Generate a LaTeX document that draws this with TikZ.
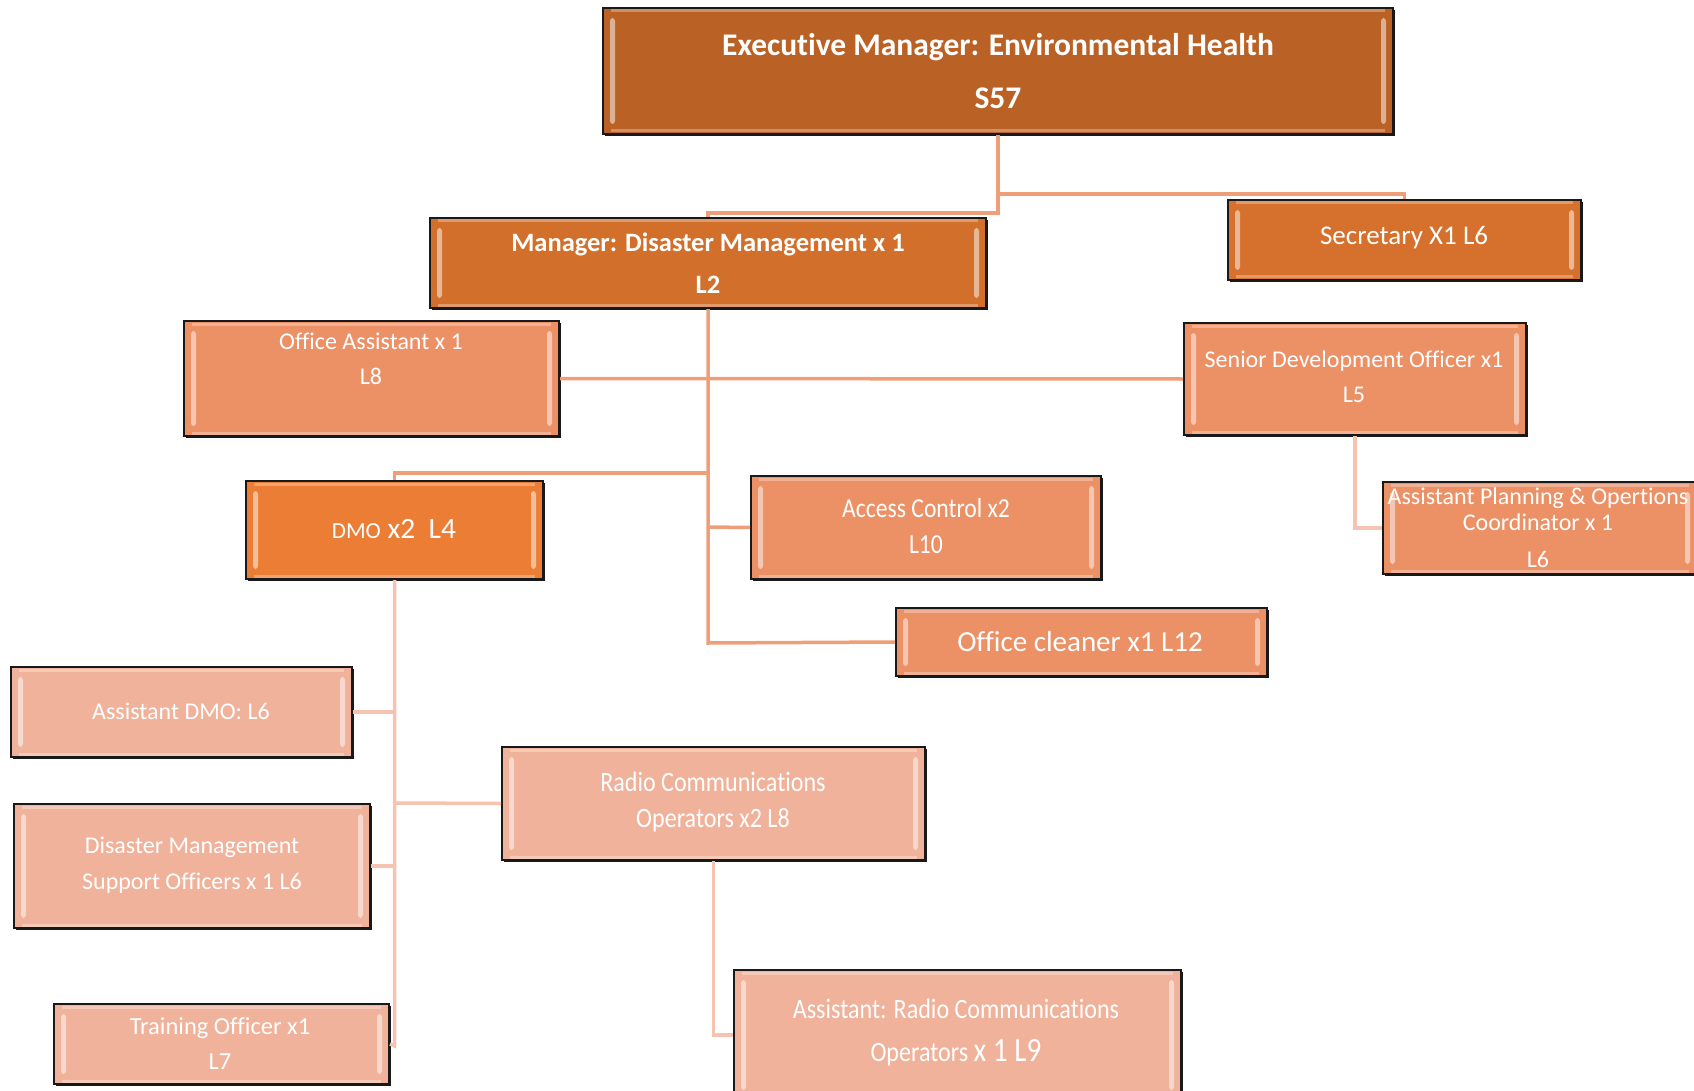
\documentclass[tikz,border=0pt]{standalone}
\usepackage{fontspec}
\setmainfont{Carlito}[Ligatures=NoCommon]
\newfontfamily\condf[FakeStretch=0.86,Ligatures=NoCommon]{Carlito}
\usetikzlibrary{shadows}
\definecolor{cexec}{HTML}{BA6126}
\definecolor{cmgr}{HTML}{D2702B}
\definecolor{csec}{HTML}{D5712C}
\definecolor{csal}{HTML}{EC9066}
\definecolor{cdmo}{HTML}{EC7D35}
\definecolor{cpea}{HTML}{F0B29A}
\definecolor{lnA}{HTML}{EE9E78}
\definecolor{lnB}{HTML}{F5C3B0}
\tikzset{
  orgbox/.style={rectangle, fill=#1, draw=black!90, line width=2pt, inner sep=0pt,
    drop shadow={shadow xshift=1.5pt, shadow yshift=-2pt, opacity=.9, fill=black},
    path picture={
      \fill[white,opacity=.5,rounded corners=3pt]
        ([xshift=7pt,yshift=-10pt]path picture bounding box.north west) rectangle
        ([xshift=12pt,yshift=10pt]path picture bounding box.south west);
      \fill[white,opacity=.5,rounded corners=3pt]
        ([xshift=-12pt,yshift=-10pt]path picture bounding box.north east) rectangle
        ([xshift=-7pt,yshift=10pt]path picture bounding box.south east);
      \draw[white,opacity=.3,line width=3pt]
        ([xshift=8pt,yshift=-3pt]path picture bounding box.north west) --
        ([xshift=-8pt,yshift=-3pt]path picture bounding box.north east);
      \draw[white,opacity=.3,line width=3pt]
        ([xshift=8pt,yshift=3pt]path picture bounding box.south west) --
        ([xshift=-8pt,yshift=3pt]path picture bounding box.south east);
    }},
  txt/.style={text=white, align=center, inner sep=0pt},
  lineA/.style={draw=lnA, line width=3.5pt},
  lineB/.style={draw=lnB, line width=3.5pt}
}
\begin{document}
\begin{tikzpicture}[x=1pt,y=-1pt]
\useasboundingbox (0,0) rectangle (1694,1091);
\coordinate (j1) at (998,194);
\coordinate (j2) at (998,213);
\coordinate (jdmo) at (708,473);
\coordinate (jacc) at (708,527);
\coordinate (jend) at (708,643);
\coordinate (jrad) at (394.5,803);
\coordinate (jadmo) at (394.5,712);
\coordinate (jdms) at (394.5,866);
\coordinate (jtr) at (394.5,1046);

% boxes
\node[orgbox=cexec, minimum width=790pt, minimum height=126pt] (exec) at (998,71) {};
\node[orgbox=cmgr, minimum width=556pt, minimum height=90pt] (mgr) at (708,263) {};
\node[orgbox=csec, minimum width=353pt, minimum height=80pt] (sec) at (1404.5,240) {};
\node[orgbox=csal, minimum width=375pt, minimum height=115pt] (oa) at (371.5,378.5) {};
\node[orgbox=csal, minimum width=342pt, minimum height=112pt] (sdo) at (1355,379) {};
\node[orgbox=csal, minimum width=314pt, minimum height=92pt] (apo) at (1540,528) {};
\node[orgbox=cdmo, minimum width=297pt, minimum height=98pt] (dmo) at (394.5,530) {};
\node[orgbox=csal, minimum width=350pt, minimum height=103pt] (acc) at (926,527.5) {};
\node[orgbox=csal, minimum width=371pt, minimum height=68pt] (cln) at (1081.5,642) {};
\node[orgbox=cpea, minimum width=341pt, minimum height=90pt] (admo) at (181.5,712) {};
\node[orgbox=cpea, minimum width=356pt, minimum height=124pt] (dms) at (192,866) {};
\node[orgbox=cpea, minimum width=335pt, minimum height=80pt] (tro) at (221.5,1044) {};
\node[orgbox=cpea, minimum width=423pt, minimum height=113pt] (rco) at (713.5,803.5) {};
\node[orgbox=cpea, minimum width=447pt, minimum height=130pt] (arc) at (957.5,1035) {};

% connectors
\draw[lineA] (exec.south) -- (j1) -| (sec.north);
\draw[lineA] (j1) -- (j2) -| (mgr.north);
\draw[lineA] (mgr.south) -- (jend) -- (cln.west);
\draw[lineA] (oa.east) -- (sdo.west);
\draw[lineA] (jdmo) -| (dmo.north);
\draw[lineA] (jacc) -- (acc.west);
\draw[lineB] (sdo.south) |- (apo.west);
\draw[lineB] (dmo.south) -- (jtr) -- (tro.east);
\draw[lineB] (admo.east) -- (jadmo);
\draw[lineB] (dms.east) -- (jdms);
\draw[lineB] (jrad) -- (rco.west);
\draw[lineB] (rco.south) |- (arc.west);

% texts
\node[txt, font=\bfseries\fontsize{31.5}{53}\selectfont] (exec-t) at (998,71.5) {Executive Manager: Environmental Health\\S57};
\node[txt, font=\bfseries\fontsize{26.5}{42}\selectfont] (mgr-t) at (708,263) {Manager: Disaster Management x 1\\L2};
\node[txt, font=\fontsize{27}{30}\selectfont] (sec-t) at (1404,238) {Secretary X1 L6};
\node[txt, font=\fontsize{24}{35}\selectfont] (oa-t) at (371,359) {Office Assistant x 1\\L8};
\node[txt, font=\fontsize{24}{35}\selectfont] (sdo-t) at (1354,377) {Senior Development Officer x1\\L5};
\node[txt, font=\fontsize{24}{26}\selectfont] (apo-t) at (1538,528) {Assistant Planning \& Opertions\\Coordinator x 1\\[11pt]L6};
\node[txt, font=\fontsize{29.5}{30}\selectfont] (dmo-t) at (394,529) {{\fontsize{23}{30}\selectfont DMO} x2\ \ L4};
\node[txt, font=\condf\fontsize{27.5}{36}\selectfont] (acc-t) at (926,526.5) {Access Control x2\\L10};
\node[txt, font=\fontsize{29}{30}\selectfont] (cln-t) at (1080,642) {Office cleaner x1 L12};
\node[txt, font=\fontsize{24}{28}\selectfont] (admo-t) at (181,711) {Assistant DMO: L6};
\node[txt, font=\fontsize{24}{36}\selectfont] (dms-t) at (192,865) {Disaster Management\\Support Officers x 1 L6};
\node[txt, font=\fontsize{24.5}{35}\selectfont] (tro-t) at (220,1043.5) {Training Officer x1\\L7};
\node[txt, font=\condf\fontsize{28}{36}\selectfont] (rco-t) at (713,802) {Radio Communications\\Operators x2 L8};
\node[txt, font=\condf\fontsize{28}{43}\selectfont] (arc-t) at (956,1032.5) {Assistant: Radio Communications\\Operators {\fontsize{34}{43}\selectfont x 1 L9}};
\end{tikzpicture}
\end{document}
